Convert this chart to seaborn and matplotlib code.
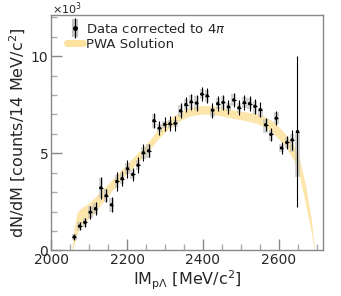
import numpy as np
import pandas as pd
import matplotlib
matplotlib.use("Agg")
import matplotlib.pyplot as plt
import seaborn as sns
from matplotlib.lines import Line2D
from matplotlib.legend_handler import HandlerTuple
from matplotlib.patches import Rectangle
from matplotlib.ticker import FuncFormatter, MultipleLocator

# ---------------- data ----------------
mass = [2061 + 14 * i for i in range(43)]
counts = [0.69, 1.25, 1.44, 1.97, 2.15, 3.22, 2.82, 2.35, 3.55, 3.70,
          4.21, 3.91, 4.39, 5.03, 5.13, 6.68, 6.30, 6.49, 6.52, 6.54,
          7.19, 7.51, 7.65, 7.59, 8.05, 7.96, 7.22, 7.56, 7.62, 7.39,
          7.75, 7.35, 7.61, 7.56, 7.42, 7.25, 6.47, 5.98, 6.81, 5.28,
          5.56, 5.69, 6.12]
stat_err = [0.17, 0.20, 0.25, 0.34, 0.34, 0.55, 0.34, 0.38, 0.47, 0.40,
            0.47, 0.36, 0.41, 0.45, 0.34, 0.38, 0.37, 0.36, 0.38, 0.38,
            0.38, 0.37, 0.40, 0.40, 0.38, 0.38, 0.38, 0.38, 0.38, 0.38,
            0.38, 0.38, 0.38, 0.38, 0.38, 0.38, 0.34, 0.34, 0.36, 0.30,
            0.34, 0.50, 3.90]
sys_up = [0.15, 0.20, 0.25, 0.30, 0.30, 0.50, 0.35, 0.35, 0.35, 0.30,
          0.30, 0.25, 0.25, 0.30, 0.35, 0.35, 0.20, 0.20, 0.20, 0.20,
          0.30, 0.30, 0.35, 0.35, 0.25, 0.30, 0.10, 0.30, 0.35, 0.20,
          0.30, 0.25, 0.30, 0.30, 0.25, 0.10, 0.30, 0.20, 0.30, 0.20,
          0.30, 0.30, 0.00]
sys_dn = [0.15, 0.20, 0.25, 0.30, 0.30, 0.50, 0.35, 0.35, 0.35, 0.30,
          0.30, 0.25, 0.25, 0.30, 0.35, 0.35, 0.20, 0.20, 0.20, 0.20,
          0.30, 0.30, 0.35, 0.35, 0.25, 0.30, 0.35, 0.30, 0.35, 0.20,
          0.30, 0.25, 0.30, 0.30, 0.40, 0.40, 0.40, 0.35, 0.30, 0.20,
          0.30, 0.60, 2.35]

pwa_mass = [2054, 2061, 2068, 2080, 2100, 2120, 2140, 2160, 2180, 2200,
            2220, 2240, 2260, 2280, 2300, 2320, 2340, 2360, 2380, 2400,
            2420, 2440, 2460, 2480, 2500, 2520, 2540, 2560, 2580, 2600,
            2620, 2640, 2655, 2670, 2685, 2694]
pwa_center = [0.0, 0.75, 1.40, 1.75, 2.05, 2.45, 2.90, 3.35, 3.80, 4.22,
              4.62, 5.02, 5.45, 5.95, 6.35, 6.65, 6.92, 7.10, 7.20, 7.24,
              7.23, 7.18, 7.10, 7.02, 6.95, 6.88, 6.80, 6.65, 6.40, 6.05,
              5.60, 5.00, 4.20, 2.90, 1.30, 0.0]
pwa_halfwidth = [0.05, 0.40, 0.55, 0.45, 0.40, 0.38, 0.33, 0.28, 0.25, 0.25,
                 0.25, 0.25, 0.25, 0.25, 0.25, 0.24, 0.23, 0.22, 0.22, 0.22,
                 0.22, 0.22, 0.22, 0.22, 0.22, 0.23, 0.25, 0.27, 0.30, 0.31,
                 0.33, 0.40, 0.45, 0.50, 0.35, 0.05]

scale = 1000.0
df = pd.DataFrame({"mass": mass, "counts": np.array(counts) * scale})
pwa = pd.DataFrame({"mass": pwa_mass,
                    "lo": (np.array(pwa_center) - np.array(pwa_halfwidth)) * scale,
                    "hi": (np.array(pwa_center) + np.array(pwa_halfwidth)) * scale})

# ---------------- figure ----------------
sns.set_theme(style="ticks")
plt.rcParams["font.family"] = ["DejaVu Sans"]
plt.rcParams["mathtext.fontset"] = "dejavusans"

fig = plt.figure(figsize=(3.41, 2.96), dpi=100)
ax = fig.add_axes([0.150, 0.154, 0.797, 0.797])

band_color = "#fce29c"
ax.fill_between(pwa["mass"], pwa["lo"], pwa["hi"], color=band_color,
                alpha=0.85, lw=0, zorder=1)

box_w = 12
for m, c, su, sd in zip(mass, counts, sys_up, sys_dn):
    ax.add_patch(Rectangle((m - box_w / 2, (c - sd) * scale), box_w,
                           (su + sd) * scale, facecolor="#b8b8b8",
                           alpha=0.6, lw=0, zorder=2))

ax.errorbar(df["mass"], df["counts"], yerr=np.array(stat_err) * scale,
            xerr=5, fmt="none", ecolor="black", elinewidth=0.8, capsize=0,
            zorder=3)
sns.scatterplot(data=df, x="mass", y="counts", ax=ax, color="black",
                s=6, edgecolor="none", zorder=4, legend=False)

ax.set_xlim(2000, 2716)
ax.set_ylim(0, 12150)
ax.xaxis.set_major_locator(MultipleLocator(200))
ax.xaxis.set_minor_locator(MultipleLocator(50))
ax.yaxis.set_major_locator(MultipleLocator(5000))
ax.yaxis.set_minor_locator(MultipleLocator(1000))
ax.yaxis.set_major_formatter(FuncFormatter(lambda v, p: f"{v / scale:g}"))
fig.text(0.152, 0.999, r"$\times10^{3}$", ha="left", va="top", fontsize=8)

ax.tick_params(axis="both", which="major", direction="in", length=8,
               width=1, color="#888888", labelsize=10, pad=2)
ax.tick_params(axis="both", which="minor", direction="in", length=4,
               width=1, color="#aaaaaa")
for sp in ax.spines.values():
    sp.set_color("#888888")
    sp.set_linewidth(1)

ax.set_xlabel(r"IM$_{\mathrm{p}\Lambda}$ [MeV/c$^{2}$]", fontsize=11.5,
              labelpad=1)
ax.set_ylabel(r"dN/dM [counts/14 MeV/c$^{2}$]", fontsize=11.5, labelpad=2)

data_handle = (Line2D([], [], ls="none", marker="|", ms=13, mew=4.5,
                      color="#c0c0c0"),
               Line2D([], [], ls="none", marker="|", ms=15, mew=0.8,
                      color="black"),
               Line2D([], [], ls="none", marker="o", ms=2.5, color="black"))
pwa_handle = Line2D([], [], lw=5, color=band_color)
ax.legend([data_handle, pwa_handle],
          [r"Data corrected to 4$\pi$", "PWA Solution"],
          handler_map={tuple: HandlerTuple(ndivide=1, pad=0)},
          loc="upper left", bbox_to_anchor=(0.045, 0.985),
          frameon=False, fontsize=9.5,
          handlelength=1.2, handletextpad=0.25, labelspacing=0.15,
          borderaxespad=0.0, borderpad=0.3, numpoints=1)

fig.savefig("out.png", dpi=100)
